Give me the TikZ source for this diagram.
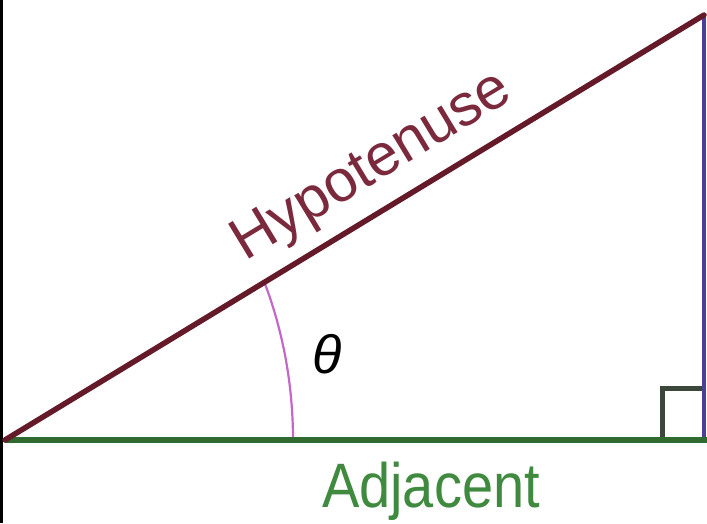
\documentclass[tikz,border=0pt]{standalone}
\usepackage{fontspec}
\setmainfont{Liberation Sans}
\definecolor{hypc}{HTML}{641A28}
\definecolor{adjc}{HTML}{2F6B2F}
\definecolor{oppc}{HTML}{4B3F96}
\definecolor{sqc}{HTML}{3A473A}
\definecolor{arcc}{HTML}{C468C8}
\definecolor{adjtext}{HTML}{3F8A3F}
\definecolor{hyptext}{HTML}{7A2A3C}
\begin{document}
\begin{tikzpicture}[x=1pt,y=-1pt,
  side/.style={line width=#1, line cap=round},
  lbl/.style={inner sep=0pt}]
\useasboundingbox (0,0) rectangle (707,523);
\fill[white] (0,0) rectangle (707,523);
\fill[black] (0,0) rectangle (3,523);
\coordinate (A) at (5,440);
\coordinate (B) at (704,440);
\coordinate (C) at (704,15);
\coordinate (S1) at (662,440);
\coordinate (S2) at (662,388);
\coordinate (S3) at (704,388);
\coordinate (R0) at (293,440);
% right angle box
\draw[sqc, line width=5pt] (S1) -- (S2) -- (S3);
% arc
\draw[arcc, line width=2.2pt] (R0) arc[start angle=0, end angle=-25.5, x radius=288, y radius=363];
% sides
\draw[oppc, line width=4pt] (C) -- (B);
\draw[adjc, line width=6.5pt] (A) -- (707,440);
\draw[hypc, side=5.5pt] (A) -- (C);
% labels
\node[lbl, hyptext, rotate=31.2, anchor=base, font=\fontsize{59}{59}\selectfont] (hyp) at (380,180) {Hypotenuse};
\node[lbl, font=\fontsize{54}{54}\selectfont\itshape] (th) at (327,354) {θ};
\node[lbl, adjtext, anchor=base, yscale=1.12, font=\fontsize{56}{56}\selectfont] (adj) at (431,507) {Adjacent};
\end{tikzpicture}
\end{document}
